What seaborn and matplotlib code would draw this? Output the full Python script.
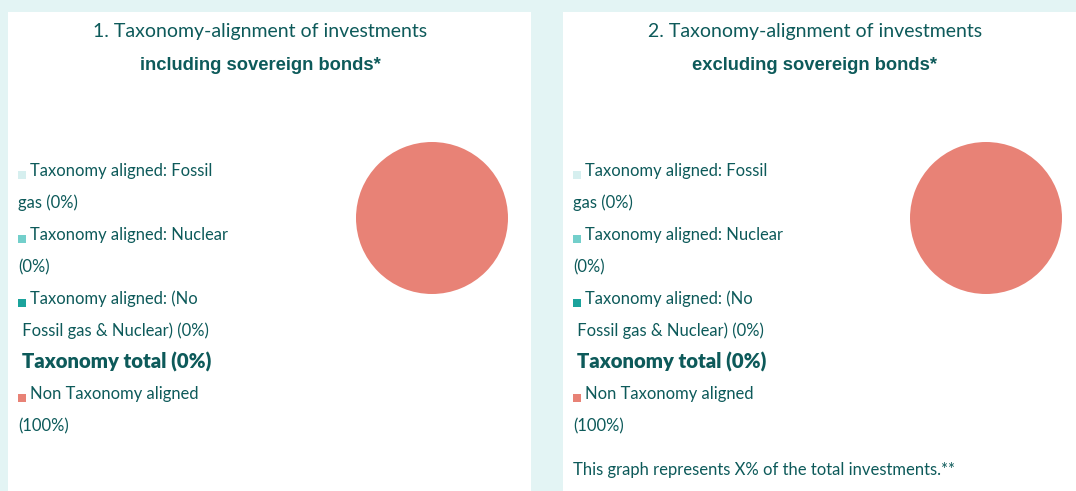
import matplotlib
matplotlib.use("Agg")
import matplotlib.pyplot as plt
import seaborn as sns
from matplotlib.patches import Rectangle

# ---- data ----
categories = ["Taxonomy aligned: Fossil gas", "Taxonomy aligned: Nuclear",
              "Taxonomy aligned: (No Fossil gas & Nuclear)", "Non Taxonomy aligned"]
incl_values = [0, 0, 0, 100]
excl_values = [0, 0, 0, 100]
legend_lines = [["Taxonomy aligned: Fossil", "gas (0%)"],
                ["Taxonomy aligned: Nuclear", "(0%)"],
                ["Taxonomy aligned: (No", " Fossil gas & Nuclear) (0%)"],
                ["Non Taxonomy aligned", "(100%)"]]
total_label = "Taxonomy total (0%)"
titles = ["1. Taxonomy-alignment of investments", "2. Taxonomy-alignment of investments"]
subtitles = ["including sovereign bonds*", "excluding sovereign bonds*"]
footnote = "This graph represents X% of the total investments.**"

colors = ["#d6efef", "#73cfcb", "#1ba39c", "#e88276"]
TEXT = "#0d5a5a"
BG = "#e3f4f4"

sns.set_theme(style="white")
FAM = ["Lato", "DejaVu Sans"]
plt.rcParams["font.family"] = FAM

W, H = 1076, 491
fig = plt.figure(figsize=(W / 100, H / 100), dpi=100, facecolor=BG)
renderer = fig.canvas.get_renderer()


def fx(x):
    return x / W


def fy(y):
    return 1 - y / H


def fit_size(s, width, size0=14, **kw):
    t = fig.text(0, 0, s, fontsize=size0, **kw)
    w = t.get_window_extent(renderer).width
    t.remove()
    return size0 * width / w


# white panels
for x0, x1 in [(8, 531), (563, 1076)]:
    fig.patches.append(Rectangle((fx(x0), 0), fx(x1 - x0), fy(12), transform=fig.transFigure,
                                 facecolor="white", edgecolor="none", zorder=-5))

title_fs = fit_size(titles[0], 335)
sub_kw = dict(fontweight="bold", family=["Liberation Sans", "DejaVu Sans"])
sub_fs = fit_size(subtitles[0], 242, **sub_kw)
leg_fs = fit_size(legend_lines[0][0], 183)
tot_kw = dict(fontweight="heavy", family=["Lato", "DejaVu Sans"])
tot_fs = fit_size(total_label, 190, **tot_kw)
foot_fs = fit_size(footnote, 384)

panels = [(8, incl_values, 432), (563, excl_values, 986)]
for i, (px, vals, cx) in enumerate(panels):
    tcx = px + 252
    fig.text(fx(tcx), fy(32), titles[i], ha="center", va="center", color=TEXT,
             fontsize=title_fs)
    fig.text(fx(tcx), fy(66), subtitles[i], ha="center", va="center", color=TEXT,
             fontsize=sub_fs, **sub_kw)
    # pie
    r = 76
    ax = fig.add_axes([fx(cx - r), fy(218 + r), fx(2 * r), 2 * r / H])
    ax.pie(vals, colors=colors, startangle=90, counterclock=False,
           wedgeprops=dict(linewidth=0))
    ax.set_xlim(-1, 1)
    ax.set_ylim(-1, 1)
    ax.set_aspect("equal")
    ax.axis("off")
    # legend
    ys = [171, 235, 299, 394]
    for j, (lines, c) in enumerate(zip(legend_lines, colors)):
        y = ys[j]
        fig.patches.append(Rectangle((fx(px + 10), fy(y + 8)), fx(8), 8 / H,
                                     transform=fig.transFigure, facecolor=c,
                                     edgecolor="none", zorder=3))
        fig.text(fx(px + 22), fy(y), lines[0], ha="left", va="center", color=TEXT,
                 fontsize=leg_fs)
        fig.text(fx(px + 10), fy(y + 32), lines[1], ha="left", va="center", color=TEXT,
                 fontsize=leg_fs)
    fig.text(fx(px + 14), fy(362), total_label, ha="left", va="center", color=TEXT,
             fontsize=tot_fs, **tot_kw)

fig.text(fx(573), fy(470), footnote, ha="left", va="center", color=TEXT, fontsize=foot_fs)

fig.savefig("out.png", dpi=100, facecolor=BG)
